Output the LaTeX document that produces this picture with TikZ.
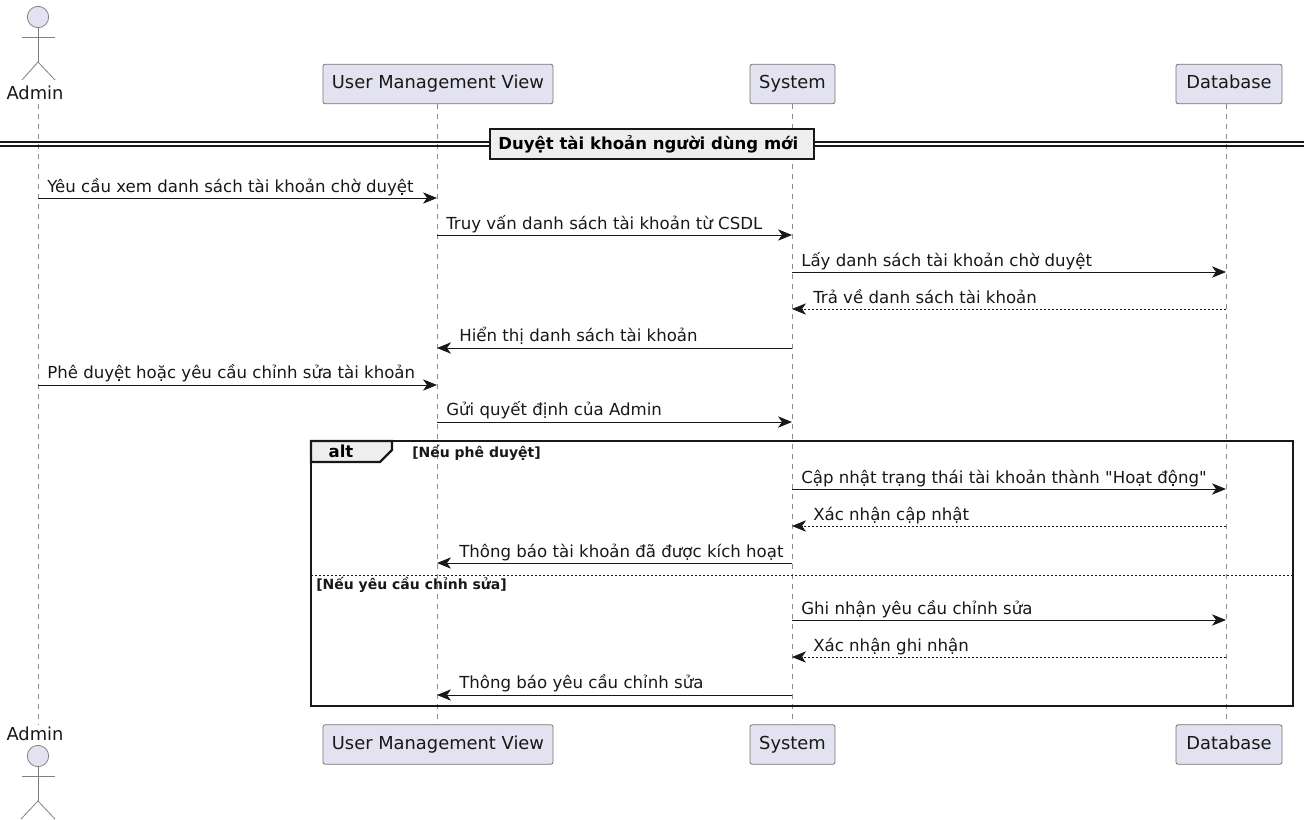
\documentclass[tikz,border=0pt]{standalone}
\usepackage{fontspec}
\setmainfont[Ligatures=TeXOff]{DejaVu Sans}
\usetikzlibrary{arrows.meta}
\definecolor{boxfill}{HTML}{E2E2F0}
\definecolor{inkdark}{HTML}{181818}
\definecolor{tabfill}{HTML}{EEEEEE}
\tikzset{
    partbox/.style={draw=inkdark!60, line width=0.6pt, fill=boxfill, rounded corners=1.5pt, minimum height=29.5pt, inner xsep=0pt, inner ysep=0pt, text height=10pt, text depth=3pt, text=inkdark, font=\fontsize{13.4}{16}\selectfont},
    actorhead/.style={circle, draw=inkdark!55, line width=0.6pt, fill=boxfill, minimum size=16pt, inner sep=0pt},
    actorbody/.style={draw=inkdark!55, line width=0.6pt},
    actorname/.style={inner sep=0pt, anchor=base, text=inkdark, font=\fontsize{13.4}{16}\selectfont},
    lifeline/.style={draw=inkdark!50, line width=0.7pt, dash pattern=on 3.75pt off 3.75pt},
    msg/.style={draw=inkdark, line width=0.75pt, -{Stealth[length=10.5pt, width=8.5pt, inset=3pt]}},
    reply/.style={msg, line width=0.6pt, dash pattern=on 1.5pt off 1.5pt},
    msgtext/.style={inner sep=0pt, anchor=base west, text=inkdark, font=\fontsize{12.45}{15}\selectfont},
    guardtext/.style={inner sep=0pt, anchor=base west, text=inkdark, font=\bfseries\fontsize{10.5}{12}\selectfont},
    frameline/.style={draw=inkdark, line width=1.8pt},
}
\begin{document}
\begin{tikzpicture}[x=0.75pt, y=-0.75pt]

    \useasboundingbox (0, 0) rectangle (1304, 819);

    % 1. Participants, top row
    \node[actorhead] (adminHead) at (38, 17) {};
    \node[actorname] (adminName) at (35, 99) {Admin};
    \node[partbox, minimum width=172.5pt] (view) at (438, 84) {User Management View};
    \node[partbox, minimum width=63.75pt] (sys) at (792.5, 84) {System};
    \node[partbox, minimum width=79.5pt] (db) at (1229, 84) {Database};

    % Participants, bottom row
    \node[actorname] (adminNameBot) at (35, 740) {Admin};
    \node[actorhead] (adminHeadBot) at (38, 756) {};
    \node[partbox, minimum width=172.5pt] (viewBot) at (438, 744.5) {User Management View};
    \node[partbox, minimum width=63.75pt] (sysBot) at (792.5, 744.5) {System};
    \node[partbox, minimum width=79.5pt] (dbBot) at (1229, 744.5) {Database};

    % Actor limbs
    \coordinate (adminHip) at (38, 62);
    \coordinate (adminHipBot) at (38, 801);
    \draw[actorbody] (adminHead) -- (adminHip);
    \draw[actorbody] (22, 37) -- (55, 37);
    \draw[actorbody] (22, 80) -- (adminHip) -- (55, 80);
    \draw[actorbody] (adminHeadBot) -- (adminHipBot);
    \draw[actorbody] (22, 776) -- (55, 776);
    \draw[actorbody] (21, 819) -- (adminHipBot) -- (55, 819);

    % 2. Lifelines
    \coordinate (A) at (adminHead);
    \coordinate (V) at (437, 0);
    \coordinate (S) at (792, 0);
    \coordinate (D) at (1226, 0);
    \draw[lifeline] (A |- view.south) -- (A |- viewBot.north);
    \draw[lifeline] (V |- view.south) -- (V |- viewBot.north);
    \draw[lifeline] (S |- sys.south) -- (S |- sysBot.north);
    \draw[lifeline] (D |- db.south) -- (D |- dbBot.north);

    % 3. Section divider
    \draw[draw=inkdark, line width=1pt] (0, 142) -- (1304, 142);
    \draw[draw=inkdark, line width=1pt] (0, 146) -- (1304, 146);
    \node[draw=inkdark, line width=1.8pt, fill=tabfill, minimum width=243pt, minimum height=22.5pt, inner sep=0pt, font=\bfseries\fontsize{12.4}{15}\selectfont] (sect) at (652, 144) {Duyệt tài khoản người dùng mới\hspace*{5.5pt}};

    % 4. Alt frame
    \draw[frameline] (311, 441) rectangle (1293, 706);
    \draw[frameline, fill=tabfill] (311, 441) -- (392, 441) -- (392, 450) -- (380, 462) -- (311, 462) -- cycle;
    \node[inner sep=0pt, anchor=base, font=\bfseries\fontsize{12.4}{15}\selectfont] (altName) at (341, 457) {alt};
    \node[guardtext] (guardOne) at (412, 457) {[Nếu phê duyệt]};
    \draw[draw=inkdark, line width=0.7pt, dash pattern=on 1.5pt off 1.5pt] (311, 575) -- (1293, 575);
    \node[guardtext] (guardTwo) at (316, 589) {[Nếu yêu cầu chỉnh sửa]};

    % 5. Messages
    \coordinate (r1) at (0, 198);
    \coordinate (r2) at (0, 235);
    \coordinate (r3) at (0, 272);
    \coordinate (r4) at (0, 309);
    \coordinate (r5) at (0, 348);
    \coordinate (r6) at (0, 385);
    \coordinate (r7) at (0, 422);
    \coordinate (r8) at (0, 489);
    \coordinate (r9) at (0, 526);
    \coordinate (r10) at (0, 563);
    \coordinate (r11) at (0, 620);
    \coordinate (r12) at (0, 657);
    \coordinate (r13) at (0, 695);

    \draw[msg] (A |- r1) -- (V |- r1);
    \node[msgtext] (t1) at (47, 192) {Yêu cầu xem danh sách tài khoản chờ duyệt};
    \draw[msg] (V |- r2) -- (S |- r2);
    \node[msgtext] (t2) at (446, 229) {Truy vấn danh sách tài khoản từ CSDL};
    \draw[msg] (S |- r3) -- (D |- r3);
    \node[msgtext] (t3) at (801, 266) {Lấy danh sách tài khoản chờ duyệt};
    \draw[reply] (D |- r4) -- (S |- r4);
    \node[msgtext] (t4) at (813, 303) {Trả về danh sách tài khoản};
    \draw[msg] (S |- r5) -- (V |- r5);
    \node[msgtext] (t5) at (459, 341) {Hiển thị danh sách tài khoản};
    \draw[msg] (A |- r6) -- (V |- r6);
    \node[msgtext] (t6) at (47, 378) {Phê duyệt hoặc yêu cầu chỉnh sửa tài khoản};
    \draw[msg] (V |- r7) -- (S |- r7);
    \node[msgtext] (t7) at (446, 415) {Gửi quyết định của Admin};

    % First branch
    \draw[msg] (S |- r8) -- (D |- r8);
    \node[msgtext] (t8) at (801, 483) {Cập nhật trạng thái tài khoản thành "Hoạt động"};
    \draw[reply] (D |- r9) -- (S |- r9);
    \node[msgtext] (t9) at (813, 520) {Xác nhận cập nhật};
    \draw[msg] (S |- r10) -- (V |- r10);
    \node[msgtext] (t10) at (459, 557) {Thông báo tài khoản đã được kích hoạt};

    % Second branch
    \draw[msg] (S |- r11) -- (D |- r11);
    \node[msgtext] (t11) at (801, 614) {Ghi nhận yêu cầu chỉnh sửa};
    \draw[reply] (D |- r12) -- (S |- r12);
    \node[msgtext] (t12) at (813, 651) {Xác nhận ghi nhận};
    \draw[msg] (S |- r13) -- (V |- r13);
    \node[msgtext] (t13) at (459, 688) {Thông báo yêu cầu chỉnh sửa};

\end{tikzpicture}
\end{document}
